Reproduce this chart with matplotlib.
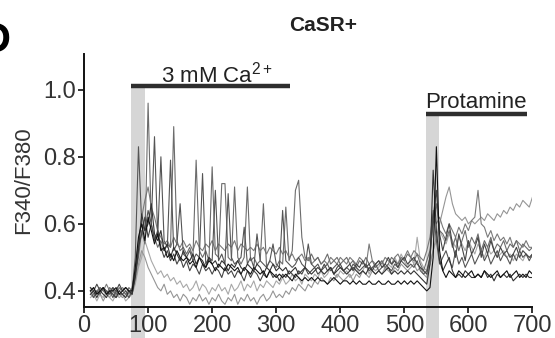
import numpy as np
import matplotlib
matplotlib.use("Agg")
import matplotlib.pyplot as plt
from matplotlib.patches import Rectangle

plt.rcParams["font.family"] = ["Liberation Sans", "DejaVu Sans"]
plt.rcParams["mathtext.fontset"] = "custom"
plt.rcParams["mathtext.rm"] = "Liberation Sans"
plt.rcParams["mathtext.it"] = "Liberation Sans:italic"
plt.rcParams["mathtext.bf"] = "Liberation Sans:bold"

# sampling times (s): 10, 15, ... 700
t = np.arange(10, 701, 5)

# F340/F380 traces, one row = 10 samples (10-55, 60-105, ... 660-700)
k1 = [0.40, 0.41, 0.39, 0.40, 0.41, 0.39, 0.40, 0.40, 0.41, 0.39,
      0.40, 0.41, 0.40, 0.40, 0.47, 0.56, 0.60, 0.55, 0.62, 0.58,
      0.54, 0.57, 0.52, 0.53, 0.50, 0.51, 0.49, 0.52, 0.50, 0.49,
      0.50, 0.48, 0.49, 0.47, 0.50, 0.48, 0.47, 0.49, 0.48, 0.46,
      0.48, 0.47, 0.46, 0.48, 0.47, 0.46, 0.47, 0.45, 0.47, 0.46,
      0.45, 0.47, 0.46, 0.45, 0.46, 0.44, 0.46, 0.45, 0.44, 0.45,
      0.44, 0.45, 0.44, 0.43, 0.45, 0.44, 0.43, 0.44, 0.43, 0.44,
      0.43, 0.44, 0.43, 0.43, 0.42, 0.43, 0.44, 0.43, 0.42, 0.43,
      0.43, 0.42, 0.43, 0.42, 0.43, 0.42, 0.42, 0.43, 0.42, 0.42,
      0.43, 0.42, 0.42, 0.43, 0.42, 0.42, 0.43, 0.42, 0.43, 0.42,
      0.43, 0.42, 0.43, 0.42, 0.41, 0.40, 0.41, 0.50, 0.83, 0.52,
      0.46, 0.44, 0.46, 0.45, 0.44, 0.46, 0.45, 0.44, 0.45, 0.46,
      0.44, 0.45, 0.44, 0.46, 0.45, 0.44, 0.45, 0.46, 0.44, 0.45,
      0.46, 0.44, 0.45, 0.46, 0.44, 0.45, 0.44, 0.46, 0.45]

k2 = [0.39, 0.40, 0.38, 0.40, 0.39, 0.38, 0.40, 0.39, 0.38, 0.40,
      0.39, 0.38, 0.40, 0.39, 0.44, 0.52, 0.63, 0.58, 0.60, 0.66,
      0.57, 0.55, 0.58, 0.52, 0.54, 0.50, 0.53, 0.51, 0.49, 0.52,
      0.50, 0.49, 0.51, 0.48, 0.50, 0.49, 0.47, 0.50, 0.48, 0.49,
      0.47, 0.49, 0.48, 0.46, 0.48, 0.47, 0.49, 0.47, 0.46, 0.48,
      0.47, 0.46, 0.48, 0.47, 0.45, 0.47, 0.46, 0.48, 0.46, 0.47,
      0.46, 0.47, 0.45, 0.46, 0.47, 0.45, 0.46, 0.47, 0.46, 0.45,
      0.46, 0.47, 0.46, 0.45, 0.46, 0.47, 0.45, 0.46, 0.47, 0.46,
      0.45, 0.46, 0.47, 0.46, 0.45, 0.46, 0.45, 0.47, 0.46, 0.45,
      0.46, 0.45, 0.46, 0.47, 0.45, 0.46, 0.45, 0.46, 0.45, 0.46,
      0.45, 0.46, 0.45, 0.44, 0.43, 0.42, 0.48, 0.76, 0.58, 0.49,
      0.46, 0.48, 0.50, 0.46, 0.44, 0.45, 0.44, 0.46, 0.45, 0.44,
      0.44, 0.45, 0.44, 0.46, 0.44, 0.45, 0.43, 0.45, 0.44, 0.45,
      0.44, 0.45, 0.43, 0.44, 0.45, 0.44, 0.45, 0.44, 0.44]

s1 = [0.41, 0.39, 0.40, 0.41, 0.40, 0.39, 0.41, 0.40, 0.39, 0.41,
      0.40, 0.39, 0.41, 0.40, 0.45, 0.50, 0.58, 0.54, 0.96, 0.60,
      0.56, 0.53, 0.55, 0.52, 0.54, 0.53, 0.89, 0.55, 0.52, 0.53,
      0.51, 0.53, 0.50, 0.79, 0.52, 0.50, 0.52, 0.49, 0.77, 0.51,
      0.50, 0.72, 0.72, 0.50, 0.49, 0.71, 0.50, 0.48, 0.50, 0.71,
      0.49, 0.50, 0.48, 0.49, 0.66, 0.47, 0.49, 0.48, 0.47, 0.49,
      0.48, 0.65, 0.49, 0.52, 0.70, 0.73, 0.56, 0.50, 0.49, 0.51,
      0.49, 0.50, 0.48, 0.49, 0.51, 0.48, 0.49, 0.50, 0.48, 0.49,
      0.50, 0.48, 0.49, 0.47, 0.49, 0.48, 0.50, 0.48, 0.49, 0.47,
      0.48, 0.49, 0.47, 0.48, 0.50, 0.49, 0.48, 0.50, 0.49, 0.51,
      0.50, 0.49, 0.51, 0.48, 0.46, 0.49, 0.52, 0.60, 0.66, 0.58,
      0.57, 0.55, 0.58, 0.53, 0.56, 0.52, 0.55, 0.58, 0.53, 0.56,
      0.54, 0.57, 0.52, 0.55, 0.53, 0.56, 0.52, 0.54, 0.53, 0.55,
      0.52, 0.54, 0.53, 0.55, 0.52, 0.54, 0.53, 0.52, 0.53]

s2 = [0.40, 0.38, 0.40, 0.39, 0.41, 0.39, 0.40, 0.38, 0.40, 0.39,
      0.39, 0.40, 0.38, 0.40, 0.50, 0.83, 0.60, 0.58, 0.64, 0.60,
      0.86, 0.56, 0.80, 0.55, 0.53, 0.79, 0.52, 0.54, 0.66, 0.51,
      0.50, 0.52, 0.49, 0.51, 0.50, 0.75, 0.48, 0.50, 0.49, 0.70,
      0.49, 0.51, 0.48, 0.69, 0.50, 0.48, 0.49, 0.50, 0.59, 0.48,
      0.50, 0.47, 0.57, 0.49, 0.48, 0.47, 0.49, 0.54, 0.48, 0.47,
      0.64, 0.49, 0.48, 0.47, 0.48, 0.50, 0.48, 0.47, 0.54, 0.48,
      0.47, 0.48, 0.46, 0.47, 0.48, 0.46, 0.47, 0.48, 0.47, 0.46,
      0.47, 0.46, 0.48, 0.47, 0.46, 0.47, 0.48, 0.46, 0.47, 0.48,
      0.46, 0.47, 0.48, 0.47, 0.46, 0.48, 0.47, 0.49, 0.48, 0.47,
      0.48, 0.47, 0.49, 0.46, 0.45, 0.46, 0.50, 0.64, 0.55, 0.48,
      0.50, 0.52, 0.49, 0.47, 0.52, 0.48, 0.50, 0.47, 0.49, 0.51,
      0.48, 0.50, 0.52, 0.49, 0.51, 0.48, 0.50, 0.52, 0.49, 0.51,
      0.50, 0.48, 0.51, 0.49, 0.52, 0.50, 0.51, 0.49, 0.51]

r1 = [0.39, 0.38, 0.40, 0.39, 0.37, 0.39, 0.38, 0.40, 0.38, 0.39,
      0.38, 0.39, 0.38, 0.40, 0.43, 0.48, 0.52, 0.50, 0.47, 0.45,
      0.43, 0.41, 0.40, 0.42, 0.39, 0.40, 0.38, 0.39, 0.37, 0.39,
      0.38, 0.36, 0.38, 0.37, 0.39, 0.37, 0.38, 0.36, 0.38, 0.37,
      0.39, 0.37, 0.36, 0.38, 0.37, 0.39, 0.36, 0.38, 0.37, 0.39,
      0.37, 0.38, 0.36, 0.38, 0.39, 0.37, 0.38, 0.40, 0.38, 0.39,
      0.38, 0.40, 0.39, 0.41, 0.40, 0.42, 0.41, 0.40, 0.42, 0.41,
      0.43, 0.42, 0.44, 0.43, 0.42, 0.44, 0.43, 0.45, 0.44, 0.43,
      0.44, 0.45, 0.43, 0.45, 0.44, 0.46, 0.45, 0.44, 0.46, 0.45,
      0.46, 0.45, 0.47, 0.46, 0.45, 0.47, 0.46, 0.48, 0.47, 0.46,
      0.47, 0.48, 0.46, 0.47, 0.45, 0.44, 0.48, 0.52, 0.56, 0.60,
      0.64, 0.68, 0.71, 0.66, 0.63, 0.62, 0.61, 0.62, 0.60, 0.61,
      0.60, 0.61, 0.62, 0.61, 0.63, 0.62, 0.61, 0.63, 0.62, 0.64,
      0.63, 0.65, 0.64, 0.66, 0.65, 0.67, 0.66, 0.65, 0.68]

m1 = [0.40, 0.41, 0.39, 0.41, 0.40, 0.42, 0.40, 0.41, 0.39, 0.40,
      0.41, 0.40, 0.39, 0.41, 0.46, 0.55, 0.62, 0.67, 0.71, 0.65,
      0.62, 0.58, 0.56, 0.54, 0.55, 0.53, 0.56, 0.54, 0.53, 0.55,
      0.53, 0.54, 0.52, 0.55, 0.53, 0.52, 0.54, 0.53, 0.55, 0.52,
      0.54, 0.53, 0.52, 0.54, 0.53, 0.55, 0.52, 0.54, 0.53, 0.52,
      0.53, 0.52, 0.54, 0.52, 0.53, 0.51, 0.53, 0.52, 0.51, 0.53,
      0.51, 0.52, 0.50, 0.51, 0.49, 0.50, 0.51, 0.49, 0.50, 0.48,
      0.49, 0.50, 0.48, 0.49, 0.48, 0.50, 0.49, 0.48, 0.50, 0.49,
      0.48, 0.50, 0.49, 0.48, 0.50, 0.49, 0.47, 0.54, 0.49, 0.48,
      0.49, 0.48, 0.50, 0.49, 0.48, 0.50, 0.51, 0.49, 0.50, 0.52,
      0.50, 0.52, 0.51, 0.50, 0.49, 0.52, 0.56, 0.63, 0.60, 0.62,
      0.59, 0.57, 0.60, 0.58, 0.56, 0.59, 0.57, 0.60, 0.58, 0.61,
      0.62, 0.70, 0.60, 0.59, 0.56, 0.58, 0.55, 0.57, 0.55, 0.56,
      0.54, 0.56, 0.53, 0.55, 0.54, 0.53, 0.55, 0.53, 0.53]

m2 = [0.41, 0.40, 0.42, 0.40, 0.41, 0.40, 0.39, 0.41, 0.40, 0.42,
      0.40, 0.41, 0.40, 0.39, 0.45, 0.53, 0.57, 0.62, 0.56, 0.60,
      0.55, 0.58, 0.53, 0.50, 0.52, 0.49, 0.51, 0.48, 0.50, 0.47,
      0.49, 0.46, 0.48, 0.47, 0.45, 0.48, 0.46, 0.47, 0.45, 0.47,
      0.46, 0.44, 0.47, 0.45, 0.46, 0.44, 0.46, 0.45, 0.43, 0.46,
      0.44, 0.46, 0.45, 0.43, 0.45, 0.44, 0.46, 0.44, 0.45, 0.43,
      0.45, 0.44, 0.46, 0.45, 0.44, 0.46, 0.45, 0.47, 0.45, 0.46,
      0.47, 0.45, 0.46, 0.48, 0.46, 0.47, 0.45, 0.47, 0.48, 0.46,
      0.47, 0.48, 0.46, 0.48, 0.47, 0.49, 0.47, 0.48, 0.46, 0.48,
      0.49, 0.47, 0.48, 0.50, 0.48, 0.49, 0.47, 0.49, 0.50, 0.48,
      0.49, 0.50, 0.48, 0.47, 0.46, 0.45, 0.50, 0.62, 0.70, 0.57,
      0.52, 0.56, 0.60, 0.54, 0.50, 0.57, 0.53, 0.49, 0.55, 0.51,
      0.53, 0.56, 0.50, 0.54, 0.51, 0.55, 0.52, 0.50, 0.53, 0.51,
      0.52, 0.50, 0.51, 0.53, 0.50, 0.52, 0.51, 0.50, 0.51]

l1 = [0.38, 0.39, 0.37, 0.39, 0.38, 0.40, 0.38, 0.37, 0.39, 0.38,
      0.39, 0.37, 0.38, 0.39, 0.42, 0.47, 0.50, 0.55, 0.52, 0.49,
      0.47, 0.45, 0.46, 0.44, 0.45, 0.43, 0.44, 0.42, 0.43, 0.41,
      0.42, 0.40, 0.41, 0.43, 0.40, 0.42, 0.41, 0.39, 0.41, 0.40,
      0.42, 0.40, 0.41, 0.39, 0.42, 0.40, 0.41, 0.43, 0.40, 0.42,
      0.41, 0.43, 0.40, 0.42, 0.41, 0.43, 0.42, 0.41, 0.43, 0.42,
      0.44, 0.42, 0.43, 0.45, 0.43, 0.44, 0.42, 0.45, 0.44, 0.43,
      0.45, 0.44, 0.46, 0.44, 0.45, 0.47, 0.45, 0.44, 0.46, 0.45,
      0.46, 0.44, 0.45, 0.47, 0.45, 0.46, 0.48, 0.45, 0.47, 0.46,
      0.47, 0.49, 0.46, 0.48, 0.47, 0.50, 0.48, 0.51, 0.49, 0.47,
      0.50, 0.48, 0.56, 0.49, 0.47, 0.46, 0.48, 0.52, 0.55, 0.58,
      0.56, 0.54, 0.57, 0.55, 0.53, 0.56, 0.54, 0.52, 0.55, 0.53,
      0.51, 0.54, 0.52, 0.50, 0.53, 0.51, 0.52, 0.50, 0.51, 0.52,
      0.50, 0.51, 0.49, 0.51, 0.50, 0.49, 0.51, 0.50, 0.50]

traces = [l1, r1, m1, s1, s2, m2, k2, k1]
shades = ["#a8a8a8", "#959595", "#7a7a7a", "#6c6c6c", "#555555", "#454545", "#333333", "#111111"]

# application periods (s)
ca_period = (73, 321)
ca_mark = (73, 95)
prot_period = (534, 692)
prot_mark = (534, 554)

fig = plt.figure(figsize=(5.55, 3.38), dpi=100)
ax = fig.add_axes([0.1514, 0.0917, 0.808, 0.749])

for y, c in zip(traces, shades):
    ax.plot(t, y, color=c, lw=0.8)

ax.set_xlim(0, 700)
ax.set_ylim(0.352, 1.107)

# shaded application windows running down through the tick labels
for (x0, x1), ytop in [(ca_mark, 1.01), (prot_mark, 0.928)]:
    ax.add_patch(Rectangle((x0, 0.26), x1 - x0, ytop - 0.26, facecolor="#d6d6d6",
                           edgecolor="none", clip_on=False, zorder=0))

ax.plot(ca_period, [1.01, 1.01], color="#2e2e2e", lw=3.2, solid_capstyle="butt", clip_on=False)
ax.plot(prot_period, [0.928, 0.928], color="#2e2e2e", lw=3.2, solid_capstyle="butt", clip_on=False)
ax.text(208, 1.022, r"3 mM $\mathregular{Ca^{2+}}$", ha="center", va="baseline", fontsize=16,
        color="#222222")
ax.text(612, 0.946, "Protamine", ha="center", va="baseline", fontsize=16, color="#222222")

ax.set_xticks([0, 100, 200, 300, 400, 500, 600, 700])
ax.set_yticks([0.4, 0.6, 0.8, 1.0])
ax.set_yticklabels(["0.4", "0.6", "0.8", "1.0"])
ax.tick_params(labelsize=17, length=4, width=1.3, pad=2, colors="#222222", labelcolor="#333333")
ax.set_ylabel("F340/F380", fontsize=16, color="#333333", labelpad=6)
for side in ["top", "right"]:
    ax.spines[side].set_visible(False)
for side in ["left", "bottom"]:
    ax.spines[side].set_linewidth(1.4)
    ax.spines[side].set_color("#111111")

fig.text(0.583, 0.926, "CaSR+", ha="center", va="center", fontsize=15, fontweight="bold", color="#222222")
fig.text(-0.035, 0.88, "D", ha="left", va="center", fontsize=30, fontweight="bold")

fig.savefig("out.png", dpi=100)
